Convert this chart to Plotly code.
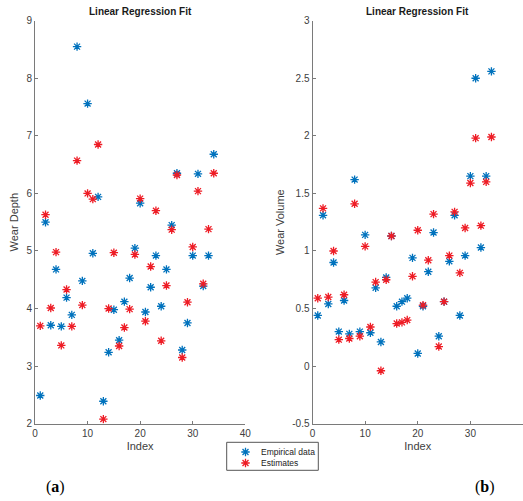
import plotly.graph_objects as go

# Sample index shared by both panels
index = list(range(1, 35))

# Wear depth: measured values and regression estimates
depth_empirical = [2.49, 5.50, 3.71, 4.68, 3.69, 4.19, 3.89, 8.55, 4.48, 7.56,
                   4.96, 5.94, 2.39, 3.24, 3.98, 3.45, 4.12, 4.53, 5.05, 5.83,
                   3.94, 4.37, 4.92, 4.04, 4.68, 5.45, 6.35, 3.28, 3.75, 4.92,
                   6.34, 4.39, 4.92, 6.68]
depth_estimates = [3.70, 5.63, 4.01, 4.98, 3.36, 4.33, 3.69, 6.57, 4.06, 6.00,
                   5.90, 6.85, 2.08, 4.00, 4.97, 3.35, 3.67, 3.99, 4.94, 5.91,
                   3.78, 4.73, 5.70, 3.44, 4.40, 5.37, 6.32, 3.15, 4.11, 5.07,
                   6.04, 4.43, 5.38, 6.35]

# Wear volume: measured values and regression estimates
volume_empirical = [0.44, 1.31, 0.54, 0.90, 0.30, 0.57, 0.28, 1.62, 0.30, 1.14,
                    0.29, 0.68, 0.21, 0.77, 1.13, 0.52, 0.56, 0.59, 0.94, 0.11,
                    0.52, 0.82, 1.16, 0.26, 0.56, 0.91, 1.31, 0.44, 0.96, 1.65,
                    2.50, 1.03, 1.65, 2.56]
volume_estimates = [0.59, 1.37, 0.60, 1.00, 0.23, 0.62, 0.24, 1.41, 0.26, 1.04,
                    0.34, 0.73, -0.04, 0.75, 1.13, 0.37, 0.38, 0.40, 0.78, 1.18,
                    0.53, 0.92, 1.32, 0.17, 0.56, 0.96, 1.34, 0.81, 1.20, 1.59,
                    1.98, 1.22, 1.60, 1.99]

series_names = ["Empirical data", "Estimates"]

x_ticks = [0, 10, 20, 30, 40]
depth_ticks = [2, 3, 4, 5, 6, 7, 8, 9]
volume_ticks = [-0.5, 0, 0.5, 1, 1.5, 2, 2.5, 3]
volume_tick_text = ["-0.5", "0", "0.5", "1", "1.5", "2", "2.5", "3"]

BLUE = "#0072BD"
RED = "#EE1C25"
AXIS = "#7a7a7a"
TEXT = "#404040"
FONT = "Liberation Sans, Arial, sans-serif"

W, H = 523, 501


def star(color, width=1.3):
    return dict(symbol="asterisk-open", size=7, color=color,
                line=dict(color=color, width=width))


fig = go.Figure()

fig.add_trace(go.Scatter(x=index, y=depth_empirical, mode="markers",
                         name=series_names[0], marker=star(BLUE),
                         xaxis="x", yaxis="y"))
fig.add_trace(go.Scatter(x=index, y=depth_estimates, mode="markers",
                         name=series_names[1], marker=star(RED),
                         xaxis="x", yaxis="y"))
fig.add_trace(go.Scatter(x=index, y=volume_empirical, mode="markers",
                         name=series_names[0], marker=star(BLUE),
                         xaxis="x2", yaxis="y2"))
fig.add_trace(go.Scatter(x=index, y=volume_estimates, mode="markers",
                         name=series_names[1], marker=star(RED),
                         xaxis="x2", yaxis="y2"))

# Compact legend box (pixel geometry of the box and its two rows)
leg_left, leg_right, leg_top, leg_bottom = 226.7, 318.3, 442.3, 470.3
row_px = [452.0, 463.0]
swatch_px = 245.5
label_px = 258.5


def row_frac(py):
    return (leg_bottom - py) / (leg_bottom - leg_top)


fig.add_trace(go.Scatter(
    x=[(swatch_px - leg_left) / (leg_right - leg_left)] * 2,
    y=[row_frac(p) for p in row_px],
    mode="markers", marker=dict(symbol="asterisk-open", size=7,
                                color=[BLUE, RED],
                                line=dict(color=[BLUE, RED], width=1.3)),
    xaxis="x3", yaxis="y3", hoverinfo="skip"))

y_dom = [(H - 423.7) / H, (H - 20.7) / H]

common_axis = dict(showline=True, linecolor=AXIS, linewidth=1, ticks="inside",
                   ticklen=3, tickcolor=AXIS, showgrid=False, zeroline=False,
                   tickfont=dict(family=FONT, size=10, color=TEXT),
                   automargin=False)
title_font = dict(family=FONT, size=11, color=TEXT)

fig.update_layout(
    width=W, height=H,
    margin=dict(l=0, r=0, t=0, b=0),
    paper_bgcolor="white", plot_bgcolor="white",
    font=dict(family=FONT, color=TEXT),
    showlegend=False,
    xaxis=dict(domain=[35 / W, 245.3 / W], range=[0, 40], tickvals=x_ticks,
               anchor="y", title=dict(text="Index", standoff=4, font=title_font),
               **common_axis),
    yaxis=dict(domain=y_dom, range=[2, 9], tickvals=depth_ticks, anchor="x",
               title=dict(text="Wear Depth", standoff=5, font=title_font),
               **common_axis),
    xaxis2=dict(domain=[312.5 / W, 1.0], range=[0, 40], tickvals=x_ticks,
                anchor="y2", title=dict(text="Index", standoff=4, font=title_font),
                **common_axis),
    yaxis2=dict(domain=y_dom, range=[-0.5, 3], tickvals=volume_ticks,
                ticktext=volume_tick_text, anchor="x2",
                title=dict(text="Wear Volume", standoff=5, font=title_font),
                **common_axis),
    xaxis3=dict(domain=[leg_left / W, leg_right / W], range=[0, 1],
                visible=False, fixedrange=True),
    yaxis3=dict(domain=[(H - leg_bottom) / H, (H - leg_top) / H], range=[0, 1],
                visible=False, fixedrange=True),
)

fig.add_shape(type="rect", xref="paper", yref="paper",
              x0=leg_left / W, x1=leg_right / W,
              y0=(H - leg_bottom) / H, y1=(H - leg_top) / H,
              line=dict(color="#555555", width=1), fillcolor="rgba(0,0,0,0)",
              layer="below")

for name, py in zip(series_names, row_px):
    fig.add_annotation(x=label_px / W, y=(H - py) / H, xref="paper", yref="paper",
                       text=name, showarrow=False, xanchor="left", yanchor="middle",
                       font=dict(family=FONT, size=8.5, color="#222222"))

# Panel titles
for xc in [(35 + 245.3) / 2 / W, (312.5 + W) / 2 / W]:
    fig.add_annotation(x=xc, y=(H - 11) / H, xref="paper", yref="paper",
                       text="<b>Linear Regression Fit</b>", showarrow=False,
                       font=dict(family=FONT, size=10, color="#1a1a1a"),
                       xanchor="center", yanchor="middle")

# Panel letters
for xc, letter in [(55 / W, "a"), (485 / W, "b")]:
    fig.add_annotation(x=xc, y=(H - 487) / H, xref="paper", yref="paper",
                       text=f"(<b>{letter}</b>)", showarrow=False,
                       font=dict(family="Liberation Serif, Times New Roman, serif",
                                 size=16, color="black"),
                       xanchor="center", yanchor="middle")

fig.write_html("out.html")
